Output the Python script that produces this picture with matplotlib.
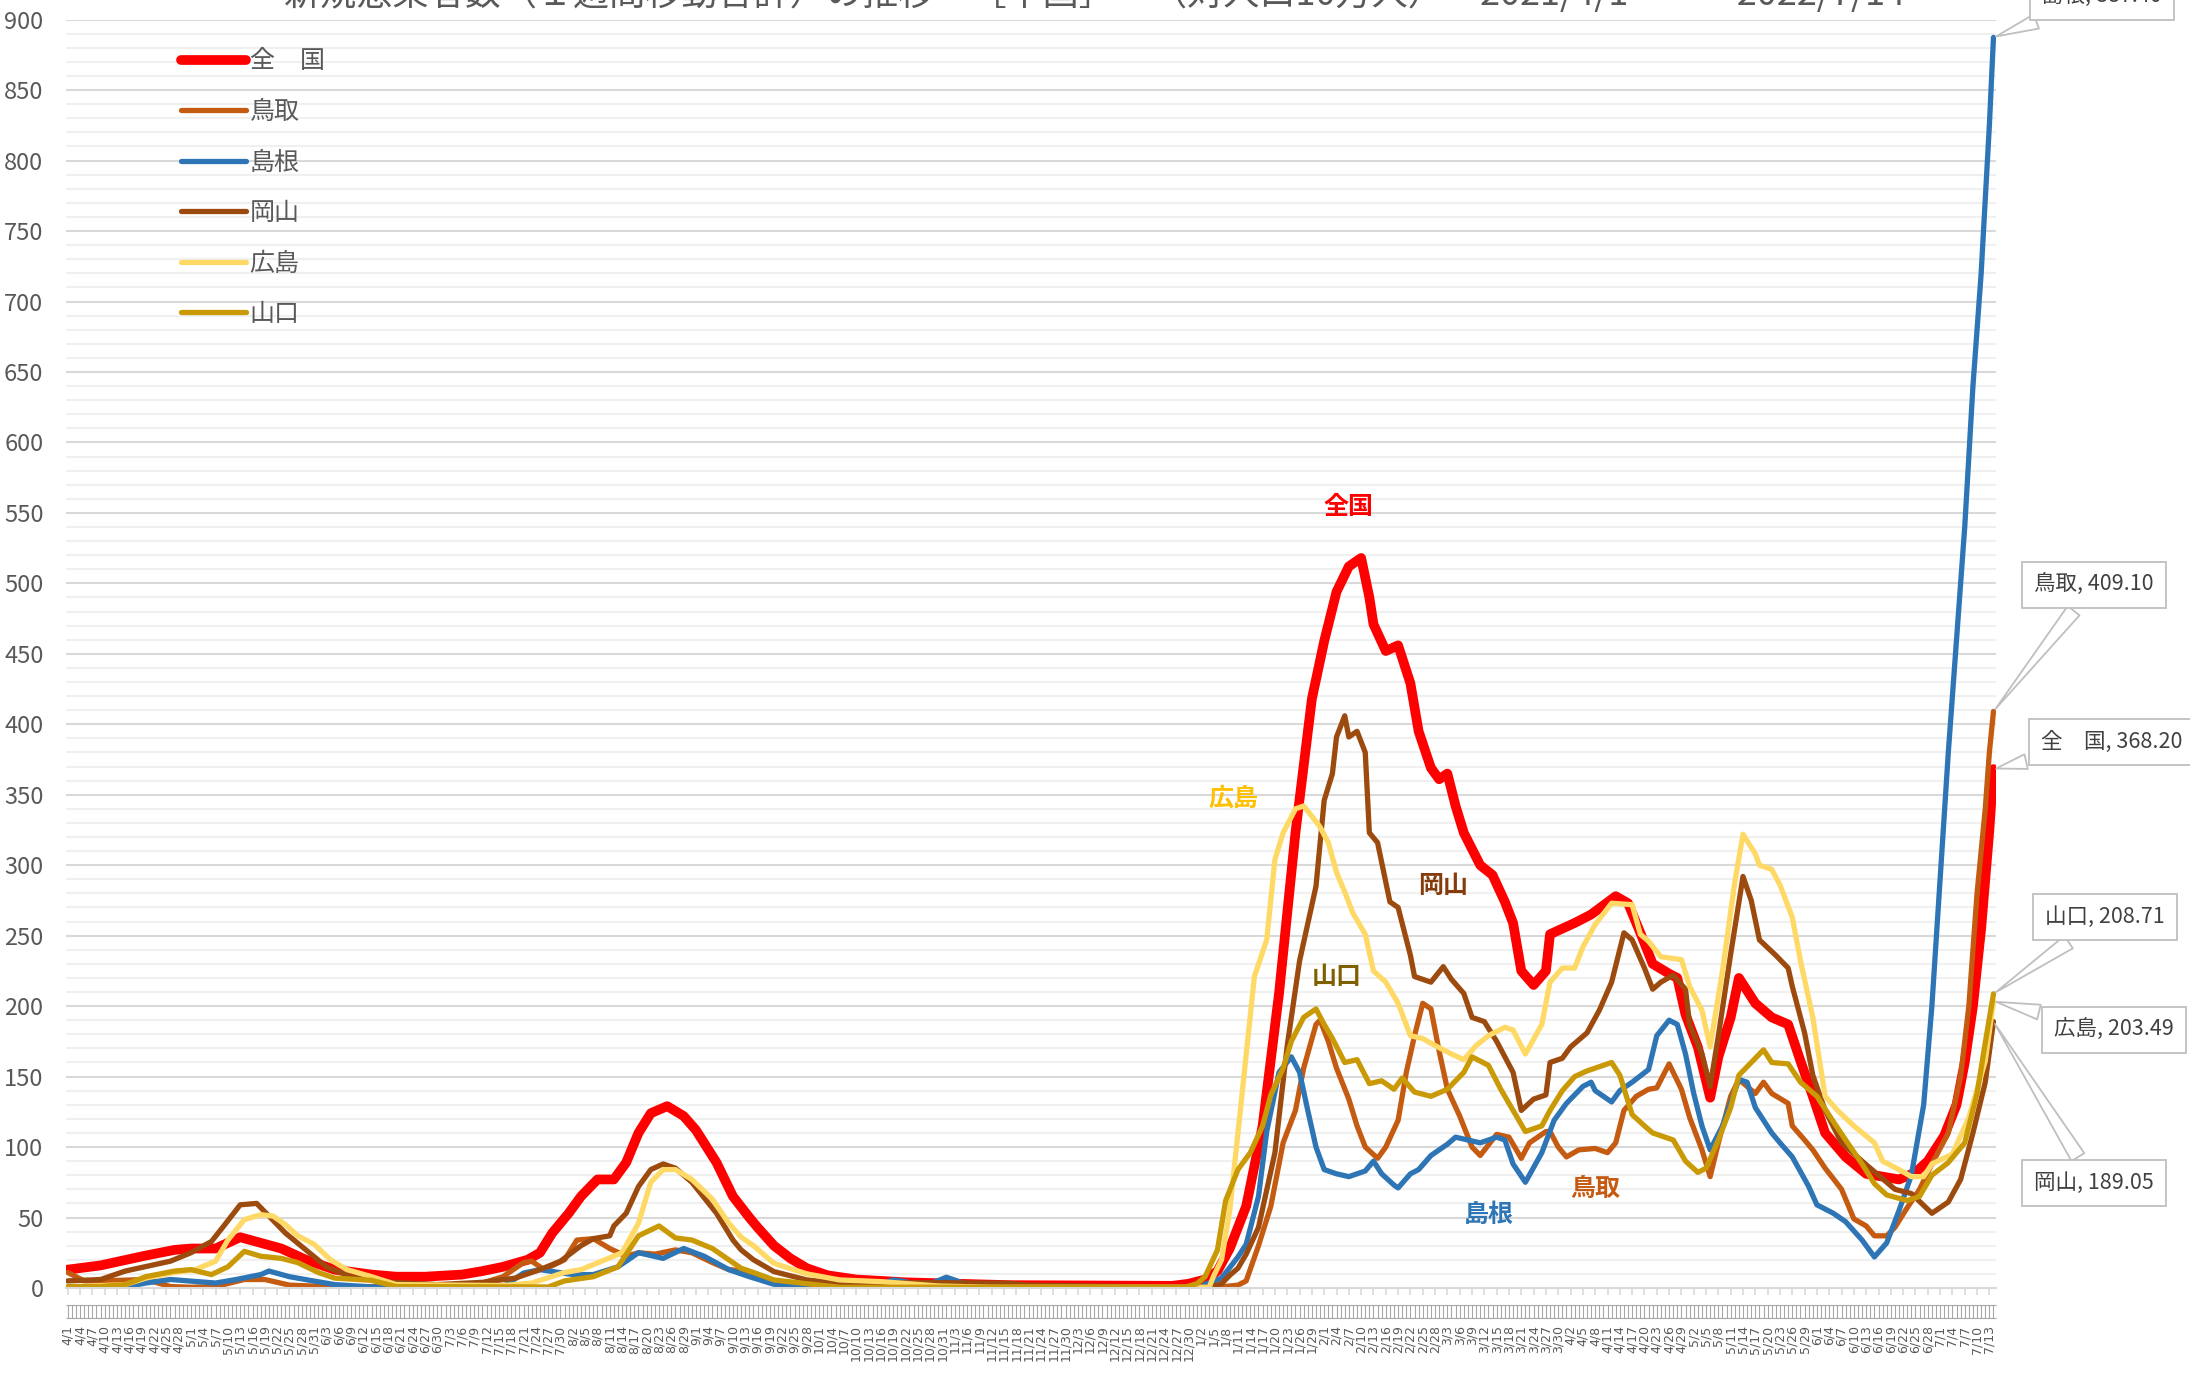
import numpy as np
import pandas as pd
import matplotlib
matplotlib.use("Agg")
import matplotlib.pyplot as plt
from matplotlib.ticker import MultipleLocator

plt.rcParams['font.family'] = ['Noto Sans CJK JP', 'DejaVu Sans']

#---------------- data (day offset from 2021/4/1, value per 100k) ----------------
START = pd.Timestamp('2021-04-01')
N_DAYS = 470

zenkoku_d = [0, 8, 19, 26, 30, 36, 42, 47, 52, 58, 65, 74, 80, 87, 96, 101, 106, 112, 115, 118,
             122, 125, 129, 133, 136, 139, 142, 146, 150, 153, 158, 162, 166, 168, 172, 176, 180, 185,
             192, 204, 229, 269, 273, 277, 280, 283, 287, 291, 295, 299, 303, 306, 309, 312, 315, 317,
             318, 321, 324, 327, 329, 332, 334, 336, 338, 340, 344, 347, 350, 352, 354, 357, 360, 361,
             364, 367, 371, 377, 380, 383, 386, 390, 392, 394, 397, 400, 402, 405, 407, 411, 415, 419,
             422, 425, 428, 433, 438, 446, 450, 453, 457, 460, 462, 464, 466, 467, 468, 469]
zenkoku_v = [13, 16, 23, 27, 28, 28, 36, 32, 28, 20, 13, 9.5, 8, 8, 9.5, 12, 15, 20, 25, 39,
             53, 65, 77, 77, 89, 110, 124, 129, 122, 112, 89, 65, 50, 43, 30, 21, 14, 9,
             6, 4, 2, 1.5, 3, 6, 12, 28, 58, 115, 209, 323, 418, 459, 494, 512, 518, 490,
             471, 452, 456, 429, 395, 369, 361, 365, 342, 323, 300, 293, 274, 259, 225, 215, 225, 251,
             255, 259, 265, 278, 273, 252, 230, 223, 220, 194, 171, 135, 164, 192, 220, 202, 192, 187,
             161, 136, 110, 93, 81, 77, 82, 90, 108, 130, 160, 200, 255, 290, 325, 368.20]

tottori_d = [0, 4, 8, 19, 25, 30, 36, 43, 48, 54, 63, 100, 101, 106, 111, 113, 116, 121, 124, 128,
             132, 136, 139, 143, 148, 152, 157, 161, 165, 172, 176, 280, 285, 287, 290, 293, 296, 299,
             301, 304, 305, 307, 309, 312, 314, 316, 319, 321, 324, 326, 328, 330, 332, 334, 336, 339,
             342, 344, 348, 351, 354, 356, 360, 361, 363, 365, 368, 372, 375, 377, 379, 382, 385, 387,
             390, 393, 395, 398, 400, 402, 405, 407, 411, 413, 415, 419, 420, 423, 425, 428, 432, 435,
             438, 440, 443, 445, 448, 451, 454, 458, 461, 463, 465, 467, 468, 469]
tottori_v = [11, 5, 5, 6, 1, 0.5, 1, 6, 6, 2, 1, 1, 3.5, 8, 18, 19, 13, 20, 34, 35,
             28, 22.5, 25, 24, 27, 25, 18, 13, 12, 4, 0.5, 0.5, 2, 5, 30, 58, 103, 126,
             156, 187, 190, 175, 156, 134, 115, 100, 92, 100, 119, 153, 179, 202, 198, 168, 141, 122,
             100, 94, 109, 107, 92, 103, 111, 111, 100, 93, 98, 99, 96, 103, 126, 136, 141, 142,
             159, 141, 121, 98, 79, 103, 136, 148, 138, 146, 138, 131, 115, 105, 98, 85, 70, 49,
             44, 37, 37, 43, 57, 70, 88, 110, 150, 200, 280, 340, 380, 409.10]

shimane_d = [0, 14, 19, 25, 36, 41, 47, 49, 54, 59, 65, 74, 106, 111, 115, 123, 128, 134, 139, 145,
             150, 155, 161, 166, 172, 180, 196, 201, 204, 208, 214, 219, 225, 276, 277, 281, 285, 287,
             290, 292, 295, 298, 300, 302, 304, 306, 309, 312, 316, 318, 320, 323, 324, 327, 329, 332,
             336, 338, 341, 344, 348, 350, 352, 355, 359, 362, 365, 369, 371, 372, 376, 378, 381, 385,
             387, 390, 392, 394, 396, 398, 400, 403, 407, 409, 411, 415, 417, 420, 424, 426, 430, 433,
             437, 440, 443, 446, 449, 452, 454, 456, 458, 460, 462, 464, 466, 468, 469]
shimane_v = [0.7, 0.7, 3.5, 6, 3.5, 6, 9.5, 12, 8, 5.4, 2.4, 0.7, 0.7, 10.6, 13, 9.5, 9.5, 15, 25, 21,
             28, 22.5, 13, 8, 2.6, 0.2, 0.5, 5.7, 4.5, 0.5, 7.6, 2.6, 0, 0, 2.6, 7, 22, 31,
             65, 111, 153, 164, 153, 126, 100, 84, 81, 79, 83, 90, 81, 73, 71, 81, 84, 94,
             102, 107, 105, 103, 107, 105, 88, 75, 96, 119, 131, 143, 146, 140, 132, 140, 146, 155,
             179, 190, 187, 166, 138, 115, 98, 115, 148, 146, 128, 110, 103, 93, 72, 59, 53, 47,
             34, 22, 32, 55, 80, 130, 200, 290, 380, 460, 540, 640, 720, 825, 887.40]

okayama_d = [0, 8, 14, 25, 30, 35, 38, 42, 46, 49, 53, 58, 63, 69, 79, 90, 101, 109, 115, 120,
             125, 128, 132, 133, 136, 139, 142, 145, 148, 152, 158, 162, 164, 167, 172, 180, 188, 212,
             229, 234, 269, 278, 281, 283, 285, 287, 290, 294, 297, 300, 304, 306, 308, 309, 311, 312,
             314, 316, 317, 319, 322, 324, 327, 328, 332, 335, 337, 340, 342, 345, 348, 352, 354, 357,
             360, 361, 364, 366, 370, 373, 376, 379, 381, 384, 386, 388, 391, 394, 395, 398, 400, 402,
             405, 408, 410, 412, 416, 419, 420, 423, 425, 428, 432, 437, 441, 445, 449, 454, 458, 461,
             464, 467, 469]
okayama_v = [5, 6, 12, 19, 25, 33, 44, 59, 60, 51, 39, 27, 15, 8, 4, 2.4, 4, 7, 13, 19,
             30, 35, 37, 44, 53, 72, 84, 88, 85, 75, 53, 34, 27, 20, 11.6, 5.7, 3.3, 3.8,
             3.3, 2, 0.5, 0.5, 3, 9, 14, 24, 43, 96, 172, 232, 285, 346, 365, 391, 406, 391,
             395, 380, 323, 316, 274, 270, 236, 221, 217, 228, 219, 209, 192, 189, 175, 153, 126, 134,
             137, 160, 163, 171, 181, 197, 217, 252, 247, 227, 212, 217, 222, 212, 187, 166, 143, 179,
             237, 292, 275, 247, 236, 227, 214, 181, 151, 126, 103, 90, 80, 70, 67, 53, 61, 77,
             110, 146, 189.05]

hiroshima_d = [0, 14, 19, 26, 31, 36, 39, 43, 47, 50, 53, 56, 60, 64, 68, 74, 80, 106, 113, 121,
               125, 130, 135, 139, 142, 145, 148, 152, 157, 161, 164, 167, 172, 180, 188, 198, 212, 225,
               278, 279, 281, 283, 285, 289, 292, 294, 296, 299, 301, 304, 305, 307, 309, 311, 313, 316,
               318, 321, 324, 327, 330, 333, 337, 340, 343, 346, 350, 352, 355, 359, 361, 364, 367, 369,
               372, 376, 381, 383, 385, 388, 393, 395, 398, 400, 403, 406, 408, 411, 412, 415, 417, 420,
               422, 425, 428, 431, 435, 440, 442, 446, 449, 452, 454, 459, 463, 467, 469]
hiroshima_v = [0.7, 2.4, 7, 11, 13, 19, 34, 48.5, 52, 51, 45, 37, 31, 20, 13, 8, 2.4, 1.7, 3.5, 11,
               13, 19, 25, 46, 75, 84, 84, 77, 63, 46, 36, 30, 17.5, 10, 5.7, 4.5, 1.4, 0.5,
               0.5, 8, 20, 55, 110, 221, 247, 304, 323, 340, 342, 331, 327, 316, 295, 281, 266, 251,
               225, 217, 202, 179, 177, 172, 166, 162, 172, 179, 185, 183, 166, 187, 217, 227, 227, 242,
               258, 273, 272, 251, 246, 235, 233, 214, 197, 171, 225, 288, 322, 308, 300, 297, 286, 263,
               232, 192, 136, 126, 115, 103, 90, 84, 79, 79, 88, 95, 121, 161, 203.49]

yamaguchi_d = [0, 8, 14, 19, 26, 30, 35, 39, 43, 47, 52, 56, 61, 65, 74, 80, 117, 121, 128, 134,
               139, 144, 148, 152, 157, 161, 164, 167, 172, 180, 188, 272, 275, 277, 280, 282, 285, 288,
               291, 293, 296, 298, 301, 304, 306, 308, 311, 314, 317, 320, 323, 325, 328, 332, 336, 340,
               342, 346, 349, 352, 355, 359, 361, 364, 367, 370, 373, 376, 378, 381, 384, 386, 391, 394,
               397, 399, 402, 405, 407, 410, 413, 415, 419, 422, 426, 430, 433, 437, 440, 443, 448, 451,
               454, 458, 462, 465, 467, 469]
yamaguchi_v = [1, 1, 2.4, 8, 12, 13, 9.5, 15, 26, 22.5, 21, 18, 11, 7, 5.4, 1, 0.7, 5, 8, 15,
               37, 44, 35.5, 34, 28, 20, 14, 11, 5.7, 3, 0.5, 0.5, 3, 8, 27, 62, 84, 96,
               115, 137, 156, 175, 192, 198, 187, 177, 160, 162, 145, 147, 141, 149, 139, 136, 141, 153,
               164, 158, 141, 126, 111, 115, 126, 140, 150, 154, 157, 160, 151, 123, 115, 110, 105, 90,
               82, 85, 105, 128, 151, 160, 169, 160, 159, 146, 136, 118, 105, 88, 74, 66, 62, 65,
               80, 89, 103, 138, 174, 208.71]

names = ['全　国', '鳥取', '島根', '岡山', '広島', '山口']
colors = ['#FF0000', '#C55A11', '#2E75B6', '#9C4A0E', '#FFD966', '#C99A06']
widths = [7, 3.8, 3.8, 3.8, 3.8, 3.8]
series_d = [zenkoku_d, tottori_d, shimane_d, okayama_d, hiroshima_d, yamaguchi_d]
series_v = [zenkoku_v, tottori_v, shimane_v, okayama_v, hiroshima_v, yamaguchi_v]

# inline labels: text, day, value, colour
inline = [('全国', 312, 554, '#FF0000'), ('広島', 284, 347, '#FFC000'), ('岡山', 335, 285, '#843C0C'),
          ('山口', 309, 221, '#7F6000'), ('島根', 346, 52, '#2E75B6'), ('鳥取', 372, 70, '#C55A11')]
# callouts at the last day: label, box centre in figure pixels
callout_txt = ['島根, 887.40', '鳥取, 409.10', '全　国, 368.20', '山口, 208.71', '広島, 203.49', '岡山, 189.05']
callout_val = [887.40, 409.10, 368.20, 208.71, 203.49, 189.05]
callout_pos = [(2102, 1378), (2094, 790), (2112, 633), (2105, 458), (2114, 345), (2094, 192)]

#---------------------------------------------------------------
fig = plt.figure(figsize=(21.9, 13.75), dpi=100)
ax = fig.add_axes([0.0300, 0.0633, 0.8812, 0.9224])
ax.set_xlim(-0.5, N_DAYS - 0.5)
ax.set_ylim(0, 900)

for nm, c, lw, d, v in zip(names, colors, widths, series_d, series_v):
    ax.plot(d, v, color=c, lw=lw, label=nm, solid_joinstyle='round', solid_capstyle='round')

ax.yaxis.set_major_locator(MultipleLocator(50))
ax.yaxis.set_minor_locator(MultipleLocator(10))
ax.grid(which='major', axis='y', color='#D9D9D9', lw=1.5)
ax.grid(which='minor', axis='y', color='#F0F0F0', lw=1.5)
ax.set_axisbelow(True)
for s in ['top', 'right', 'left']:
    ax.spines[s].set_visible(False)
ax.spines['bottom'].set_color('#D9D9D9')
ax.spines['bottom'].set_linewidth(1.5)
ax.tick_params(axis='y', which='both', length=0, labelsize=17, labelcolor='#595959', pad=16)

tick_days = np.arange(0, N_DAYS, 3)
tick_lbl = [f"{(START + pd.Timedelta(days=int(k))).month}/{(START + pd.Timedelta(days=int(k))).day}"
            for k in tick_days]
ax.set_xticks(tick_days)
ax.set_xticklabels(tick_lbl, rotation=90, fontsize=9, color='#595959', family='DejaVu Sans')
ax.tick_params(axis='x', length=5, color='#D9D9D9', width=1.2, pad=22)

# tick band under the axis
trans = ax.get_xaxis_transform()
ax.vlines(np.arange(N_DAYS), -0.0235, -0.0135, transform=trans, color='#A6A6A6', lw=0.8, clip_on=False)
ax.hlines([-0.0135, -0.0235], -0.5, N_DAYS - 0.5, transform=trans, color='#A6A6A6', lw=0.8, clip_on=False)

for t, d, v, c in inline:
    ax.text(d, v, t, color=c, fontsize=18, fontweight='bold', ha='center', va='center')

for t, v, (px, py) in zip(callout_txt, callout_val, callout_pos):
    ax.annotate(t, xy=(N_DAYS - 1, v), xycoords='data', xytext=(px, py), textcoords='figure pixels',
                ha='center', va='center', fontsize=15.5, color='#404040', annotation_clip=False,
                bbox=dict(boxstyle='square,pad=0.55', fc='white', ec='#BFBFBF', lw=1.3),
                arrowprops=dict(arrowstyle='wedge,tail_width=0.7,shrink_factor=0.5',
                                fc='white', ec='#BFBFBF', lw=1.3))

leg = ax.legend(loc='upper left', bbox_to_anchor=(0.078, 0.972), bbox_transform=fig.transFigure,
                frameon=False, fontsize=18, handlelength=2.6, handletextpad=0.15, labelspacing=0.98,
                borderaxespad=0)
for txt in leg.get_texts():
    txt.set_color('#595959')

fig.text(0.5, 1.0 + 6 / 1375, '新規感染者数（１週間移動合計）の推移　［中国］　（対人口10万人）　2021/4/1　～　2022/7/14',
         ha='center', va='center', fontsize=26, color='#595959')

fig.savefig('out.png', dpi=100)
